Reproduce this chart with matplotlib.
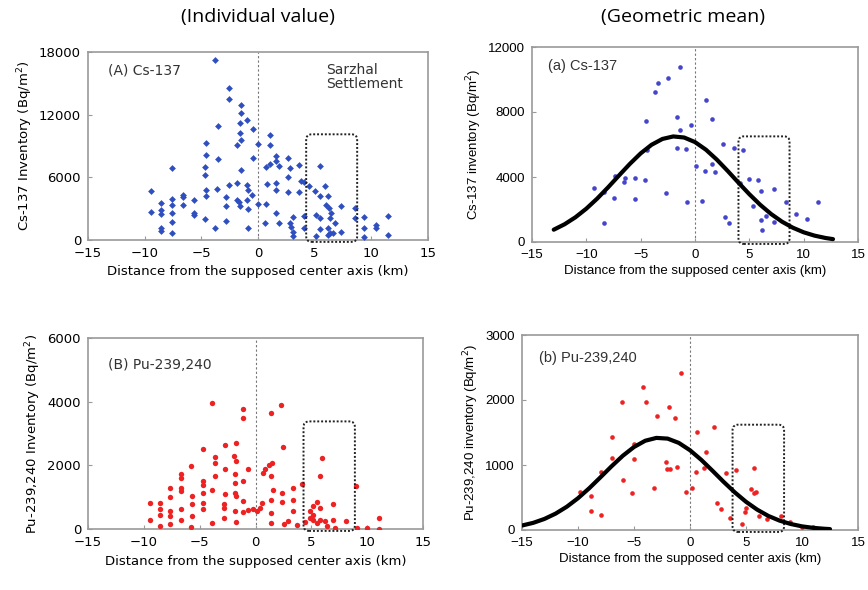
import numpy as np
import matplotlib
matplotlib.use("Agg")
import matplotlib.pyplot as plt
from matplotlib.patches import FancyBboxPatch

# ---- (A) Cs-137 individual values ----
csA_x = [-3.77, -2.58, -2.58, -1.48, -1.48, -0.95, -3.53, -1.63, -1.63, -0.47, -1.48, -1.84, -4.6, 0.0,
         1.04, 1.04, -4.6, -0.45, -3.53, 1.57, 1.57, 2.61, 1.04, 1.81, 3.65, 5.43, -7.57, -4.72, -4.66,
         -1.48, 0.68, 2.82, 2.61, 3.8, 4.1, -4.6, -3.62, -2.58, -1.84, -0.95, 0.83, 1.57, 1.57, 2.61,
         3.65, 4.54, 4.99, 5.88, 5.43, 6.17, -0.89, -0.5, -4.6, -2.79, -9.47, -8.52, -7.57, -7.57, -6.59,
         -6.59, -6.59, -5.61, -1.84, -1.69, -0.95, -2.79, -1.57, -0.89, 0.0, 0.68, -9.47, -8.52, -8.52,
         -7.57, -5.61, -5.61, 1.57, 3.12, 4.1, 5.13, 6.02, 6.26, 7.36, 6.47, 5.43, 6.32, 8.55, 8.55, 9.38,
         11.45, -7.57, -4.66, -2.79, 0.62, 1.81, 2.82, 2.9, 6.77, -8.52, -8.52, -7.57, -3.77, -0.89, 3.12,
         3.12, 4.1, 5.43, 6.17, 6.32, 7.36, 6.17, 6.62, 9.38, 9.38, 10.42, 10.42, 11.45, 5.13]
csA_y = [17270, 14510, 13480, 12940, 12200, 11490, 10910, 11230, 10270, 10660, 9570, 9120, 9310, 9150,
         10020, 9120, 8120, 7860, 7770, 8090, 7540, 7860, 7290, 7060, 7220, 7130, 6900, 6970, 6260,
         6740, 6970, 6900, 6030, 5620, 5520, 4820, 4880, 5230, 5460, 5300, 5390, 5460, 4750, 4560,
         4560, 5140, 4650, 5140, 4170, 4170, 4820, 4330, 4240, 4110, 4650, 3530, 3920, 3370, 4330,
         4080, 3370, 3850, 3850, 3630, 3850, 3210, 3210, 2950, 3470, 3430, 2660, 2890, 2500,
         2570, 2630, 2410, 2570, 2250, 2340, 2410, 3370, 3050, 3210, 2570, 2090, 2090, 3050, 2090, 2250,
         2340, 1770, 1990, 1860, 1670, 1610, 1610, 1280, 1610, 1120, 900, 710, 1120, 1120, 800,
         390, 1120, 1030, 1120, 710, 800, 480, 640, 1120, 320, 1440, 1120, 480, 390]

# ---- (a) Cs-137 geometric mean ----
csa_x = [-1.42, -2.47, -3.43, -3.64, 1.05, -1.64, 1.6, -4.48, -0.34, -1.42, 2.59, 3.61, 4.44, -1.7,
         -0.86, -4.41, 0.06, 1.6, 1.82, 0.9, -7.35, -6.42, -6.51, -5.49, -4.63, -9.26, -8.33, -7.41,
         -5.49, -2.65, -0.77, 0.62, 4.14, 5.0, 5.83, 6.08, 7.25, 8.4, 11.33, 5.37, 2.78, 3.15, 6.54,
         6.08, 7.31, 6.17, 9.32, 10.31, -8.33]
csa_y = [10760, 10080, 9770, 9210, 8760, 7700, 7560, 7430, 7220, 6870, 6040, 5800, 5690, 5800,
         5750, 5650, 4700, 4820, 4310, 4370, 4040, 3930, 3680, 3930, 3830, 3310, 3060, 2730,
         2630, 3020, 2440, 2550, 3620, 3870, 3790, 3110, 3270, 2480, 2440, 2210, 1510, 1140, 1590,
         1350, 1240, 720, 1720, 1410, 1140]
csa_fit_x = [-13, -12, -11, -10, -9, -8, -7, -6, -5, -4, -3, -2, -1, 0, 1, 2, 3, 4, 5, 6, 7, 8, 9,
             10, 11, 12, 12.7]
csa_fit_y = [757, 1092, 1523, 2052, 2672, 3362, 4089, 4803, 5454, 5982, 6341, 6496, 6430, 6149, 5683,
             5075, 4379, 3651, 2942, 2290, 1723, 1253, 880, 597, 392, 248, 177]

# ---- (B) Pu-239,240 individual values ----
puB_x = [-3.86, -1.11, -1.11, 1.35, 2.28, -4.7, -2.69, -1.71, 2.49, -3.65, -3.65, -1.95, -1.71, 5.93,
         -5.81, -2.69, -0.66, 0.84, 1.44, 1.23, 0.69, 5.78, -6.71, -6.71, -4.7, -3.65, -1.8, 1.35,
         -1.11, -7.69, -6.71, -6.71, -5.69, -4.7, -4.7, -3.86, -2.69, -1.8, -1.8, -1.71, 1.53, 2.34,
         3.38, 4.13, 3.38, 8.98, -7.69, -8.59, -9.49, -5.69, -4.7, -2.84, -1.11, 0.54, 1.35, 2.34,
         5.54, 6.98, 5.18, -8.59, -7.69, -6.71, -4.7, -2.84, -1.8, -1.11, -0.66, -0.21, 0.39, 0.09,
         1.35, 3.38, 4.88, 5.78, 5.18, -9.49, -8.59, -7.69, -6.71, -5.69, -3.86, -2.84, -1.71, 1.35,
         2.55, 2.93, 3.68, 4.43, 5.18, 5.54, 6.23, 6.98, 8.11, 6.38, 7.13, 9.07, 9.97, 11.02, 11.02,
         -8.59, -7.69, -5.81, 4.88, 5.78]
puB_y = [3970, 3780, 3500, 3630, 3890, 2520, 2650, 2710, 2570, 2260, 2080, 2290, 2130, 2240,
         1970, 1870, 1870, 1890, 2080, 2010, 1760, 1680, 1740, 1610, 1520, 1680, 1740, 1680,
         1500, 1290, 1290, 1190, 1030, 1380, 1130, 1210, 1100, 1450, 1130, 1030, 1240, 1130,
         1290, 1400, 920, 1340, 1010, 820, 820, 790, 820, 770, 870, 820, 920, 840,
         840, 790, 710, 630, 560, 630, 630, 660, 560, 530, 610, 630, 660, 560,
         500, 560, 560, 660, 450, 290, 450, 400, 290, 400, 190, 350, 210, 190,
         170, 240, 140, 210, 290, 190, 240, 290, 240, 80, 30, 30, 30, 330, 0,
         100, 170, 60, 350, 290]

# ---- (b) Pu-239,240 geometric mean ----
pub_x = [-0.83, -4.2, -6.04, -3.96, -1.88, -2.92, -1.34, 2.14, 0.65, -6.93, -5.0, 1.4, -6.93, -5.0,
         -2.17, -1.19, -2.02, -1.82, 1.25, 0.51, -7.98, 3.24, 4.08, 5.71, -5.95, -3.21, 0.21, -0.33,
         -5.15, -9.82, -8.87, 5.42, 5.71, 5.86, 2.44, 2.74, 4.97, 4.91, 6.16, 6.9, 8.1, 8.9, 9.97,
         11.01, 3.54, 4.61, -8.87, -7.98]
pub_y = [2411, 2206, 1975, 1975, 1888, 1760, 1719, 1590, 1513, 1426, 1324, 1205, 1113, 1098,
         1052, 975, 939, 939, 949, 898, 898, 872, 923, 949, 770, 641, 641, 580,
         575, 580, 528, 626, 575, 590, 421, 318, 333, 282, 215, 164, 215, 128, 51,
         41, 190, 87, 298, 231]
pub_fit_x = [-15, -14, -13, -12, -11, -10, -9, -8, -7, -6, -5, -4, -3, -2, -1, 0, 1, 2, 3, 4, 5, 6,
             7, 8, 9, 10, 11, 12, 12.5]
pub_fit_y = [69, 110, 170, 252, 358, 489, 642, 810, 981, 1142, 1277, 1373, 1417, 1406, 1340, 1227,
             1080, 913, 741, 579, 434, 313, 216, 144, 92, 56, 33, 19, 14]

# Sarzhal settlement boxes (x0, x1, top)
boxA = (4.25, 8.75, 10300)
boxa = (4.0, 8.7, 6620)
boxB = (4.3, 8.9, 3440)
boxb = (3.8, 8.4, 1650)

x_ticks = [-15, -10, -5, 0, 5, 10, 15]

W, H = 868, 590
fig = plt.figure(figsize=(W / 100, H / 100), dpi=100)
fig.patch.set_facecolor("white")

frame = "#9a9a9a"


def style_axes(ax, ymax, yticks, family):
    ax.set_xlim(-15, 15)
    ax.set_ylim(0, ymax)
    ax.set_xticks(x_ticks)
    ax.set_xticklabels(["\u2212%d" % -t if t < 0 else str(t) for t in x_ticks],
                       fontfamily=family, fontsize=9.5)
    ax.set_yticks(yticks)
    ax.set_yticklabels([str(t) for t in yticks], fontfamily=family, fontsize=9.5)
    for s in ax.spines.values():
        s.set_color(frame)
        s.set_linewidth(1.2)
    ax.tick_params(direction="in", length=3, color=frame, pad=5)
    ax.axvline(0, color="#777777", lw=0.8, ls=(0, (2, 2)), zorder=1)


def add_box(ax, box, ymax, wpx, hpx):
    x0, x1, top = box
    aspect = (ymax / hpx) / (30.0 / wpx)
    p = FancyBboxPatch((x0, -ymax * 0.01), x1 - x0, top, boxstyle="round,pad=0,rounding_size=0.5",
                       mutation_aspect=aspect, fill=False, ec="#222222", lw=1.4, ls=(0, (1, 1)),
                       zorder=4, clip_on=False)
    ax.add_patch(p)


xlabel = "Distance from the supposed center axis (km)"
left_font = "DejaVu Sans"
right_font = "Liberation Sans"

# panel A
axA = fig.add_axes([88 / W, 1 - 240 / H, 340 / W, 188 / H])
style_axes(axA, 18000, [0, 6000, 12000, 18000], left_font)
axA.scatter(csA_x, csA_y, marker="D", s=12, color="#2f4fc0", lw=0, zorder=3)
add_box(axA, boxA, 18000, 340, 188)
axA.text(0.06, 0.88, "(A) Cs-137", transform=axA.transAxes, fontsize=10, family=left_font, color="#333333")
axA.text(0.70, 0.94, "Sarzhal\nSettlement", transform=axA.transAxes, fontsize=10, family=left_font,
         color="#333333", va="top", linespacing=1.0)
axA.set_xlabel(xlabel, fontsize=9.5, family=left_font, labelpad=4)
axA.set_ylabel("Cs-137 Inventory (Bq/m$^2$)", fontsize=9.5, family=left_font, labelpad=3)

# panel a
axa = fig.add_axes([532 / W, 1 - 242 / H, 326 / W, 195 / H])
style_axes(axa, 12000, [0, 4000, 8000, 12000], right_font)
axa.scatter(csa_x, csa_y, marker="o", s=11, color="#4545cc", lw=0, zorder=3)
axa.plot(csa_fit_x, csa_fit_y, color="black", lw=3, zorder=5, solid_capstyle="round")
add_box(axa, boxa, 12000, 326, 195)
axa.text(0.05, 0.88, "(a) Cs-137", transform=axa.transAxes, fontsize=10.5, family=right_font, color="#333333")
axa.set_xlabel(xlabel, fontsize=9.5, family=right_font, labelpad=3)
axa.set_ylabel("Cs-137 inventory (Bq/m$^2$)", fontsize=9.5, family=right_font, labelpad=3)

# panel B
axB = fig.add_axes([88 / W, 1 - 529 / H, 335 / W, 191 / H])
style_axes(axB, 6000, [0, 2000, 4000, 6000], left_font)
axB.scatter(puB_x, puB_y, marker="o", s=15, color="#ee2222", lw=0, zorder=3)
add_box(axB, boxB, 6000, 335, 191)
axB.text(0.06, 0.84, "(B) Pu-239,240", transform=axB.transAxes, fontsize=10, family=left_font, color="#333333")
axB.set_xlabel(xlabel, fontsize=9.5, family=left_font, labelpad=4)
axB.set_ylabel("Pu-239,240 Inventory (Bq/m$^2$)", fontsize=9.5, family=left_font, labelpad=3)

# panel b
axb = fig.add_axes([522 / W, 1 - 530 / H, 336 / W, 195 / H])
style_axes(axb, 3000, [0, 1000, 2000, 3000], right_font)
axb.scatter(pub_x, pub_y, marker="o", s=11, color="#ee2222", lw=0, zorder=3)
axb.plot(pub_fit_x, pub_fit_y, color="black", lw=3, zorder=5, solid_capstyle="round")
add_box(axb, boxb, 3000, 336, 195)
axb.text(0.05, 0.86, "(b) Pu-239,240", transform=axb.transAxes, fontsize=10.5, family=right_font, color="#333333")
axb.set_xlabel(xlabel, fontsize=9.5, family=right_font, labelpad=3)
axb.set_ylabel("Pu-239,240 inventory (Bq/m$^2$)", fontsize=9.5, family=right_font, labelpad=3)

fig.text(258 / W, 1 - 17 / H, "(Individual value)", ha="center", va="center", fontsize=14, family="Open Sans")
fig.text(683 / W, 1 - 17 / H, "(Geometric mean)", ha="center", va="center", fontsize=14, family="Open Sans")

fig.savefig("out.png", dpi=100)
